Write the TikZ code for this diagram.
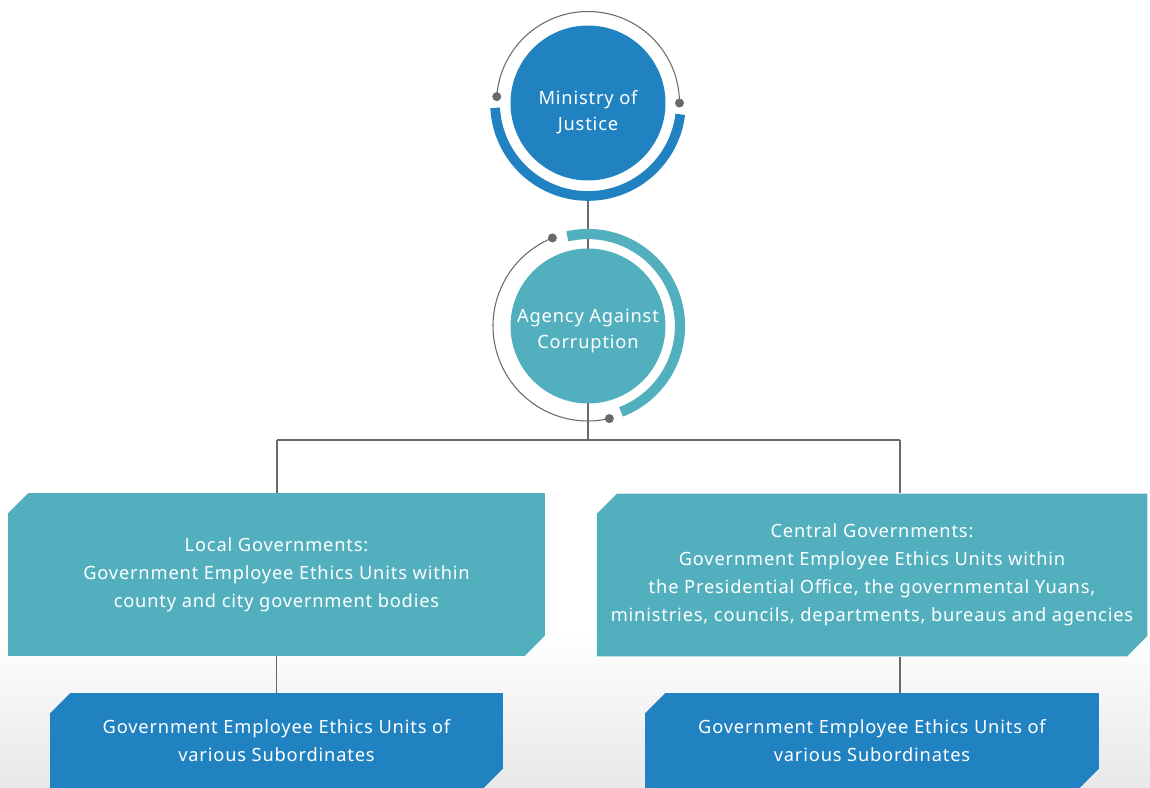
\documentclass[tikz,border=0pt]{standalone}
\usepackage{fontspec}
\setmainfont{Noto Sans}[LetterSpace=4.5]
\usepackage{tikz}
\usetikzlibrary{positioning, shapes.misc, backgrounds}
\definecolor{mojblue}{RGB}{32, 130, 192}
\definecolor{aacteal}{RGB}{82, 176, 190}
\definecolor{linkgray}{RGB}{105, 105, 105}

\begin{document}
\begin{tikzpicture}[
    x=0.02cm, y=0.02cm,
    font=\fontsize{10.4}{15.9}\selectfont,
    hub/.style={circle, fill=#1, minimum size=3.1cm, inner sep=0pt},
    hubtext/.style={text=white, align=center, inner sep=0pt, font=\fontsize{10.4}{14.8}\selectfont},
    unit/.style={chamfered rectangle, chamfered rectangle corners={north west, south east}, chamfered rectangle xsep=0.28cm, fill=#1, text=white, align=center, inner sep=0pt},
    link/.style={draw=linkgray, line width=0.6pt},
    ring/.style={line width=5.5pt},
    thinring/.style={draw=linkgray, line width=0.6pt},
    pin/.style={fill=linkgray}
]
    \useasboundingbox (0,0) rectangle (1150,-788);

    % Ministry and agency
    \node[hub=mojblue] (moj) at (588,-103) {};
    \node[hubtext] (mojtitle) at ([yshift=-0.18cm]moj.center) {Ministry of\\Justice};
    \node[hub=aacteal] (aac) at (588,-326) {};
    \node[hubtext] (aactitle) at ([yshift=-0.1cm]aac.center) {Agency Against\\Corruption};

    % Rings round the ministry
    \draw[thinring] (moj.center) ++(176:1.83cm) arc[start angle=176, end angle=0, radius=1.83cm];
    \fill[pin] (moj.center) ++(176:1.83cm) circle[radius=0.09cm];
    \fill[pin] (moj.center) ++(0:1.83cm) circle[radius=0.09cm];
    \draw[ring, mojblue] (moj.center) ++(183:1.86cm) arc[start angle=183, end angle=353, radius=1.86cm];

    % Rings round the agency
    \draw[thinring] (aac.center) ++(112:1.9cm) arc[start angle=112, end angle=283, radius=1.9cm];
    \fill[pin] (aac.center) ++(112:1.9cm) circle[radius=0.09cm];
    \fill[pin] (aac.center) ++(283:1.9cm) circle[radius=0.09cm];
    \draw[ring, line width=5.8pt, aacteal] (aac.center) ++(103:1.84cm) arc[start angle=103, end angle=-69, radius=1.84cm];

    % Ethics units
    \node[unit=aacteal, minimum width=10.74cm, minimum height=3.26cm] (local) at (276.5,-574.5)
        {Local Governments:\\Government Employee Ethics Units within\\county and city government bodies};
    \node[unit=aacteal, minimum width=11cm, minimum height=3.26cm] (central) at (872,-575)
        {Central Governments:\\Government Employee Ethics Units within\\the Presidential Office, the governmental Yuans,\\ministries, councils, departments, bureaus and agencies};
    \node[unit=mojblue, minimum width=9.06cm, minimum height=1.92cm] (localsub) at (276.5,-741)
        {Government Employee Ethics Units of\\various Subordinates};
    \node[unit=mojblue, minimum width=9.08cm, minimum height=1.92cm] (centralsub) at (872,-741)
        {Government Employee Ethics Units of\\various Subordinates};

    % Branch points
    \coordinate (mojfoot) at (588,-201);
    \coordinate (split) at (588,-440);
    \coordinate (localtap) at (277,-440);
    \coordinate (centraltap) at (900,-440);

    \begin{scope}[on background layer]
        \shade[top color=white, bottom color=black!9] (0,-630) rectangle (1150,-788);
        \draw[link] (mojfoot) -- (split);
        \draw[link] (localtap) -- (centraltap);
        \draw[link] (localtap) -- (localtap |- local.north);
        \draw[link] (centraltap) -- (centraltap |- central.north);
        \draw[link] (local.south) -- (localsub.north);
        \draw[link] (centraltap |- central.south) -- (centraltap |- centralsub.north);
    \end{scope}
\end{tikzpicture}
\end{document}
